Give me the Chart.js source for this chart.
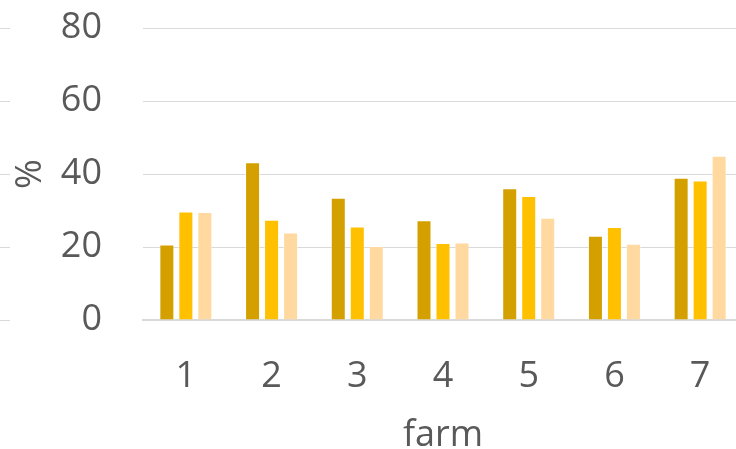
<!DOCTYPE html>
<html>
<head>
<meta charset="utf-8">
<title>farm chart</title>
<script src="https://cdn.jsdelivr.net/npm/chart.js@4/dist/chart.umd.min.js"></script>
<style>
    html, body { margin: 0; padding: 0; background: #ffffff; overflow: hidden; }
    #wrap { width: 744px; height: 457px; }
</style>
</head>
<body>
<div id="wrap"><canvas id="farmChart" width="744" height="457"></canvas></div>
<script>
// Chart data
const farms = ['1', '2', '3', '4', '5', '6', '7'];
const seriesA = [20.7, 43.2, 33.5, 27.3, 36.1, 23.1, 39.0];
const seriesB = [29.7, 27.5, 25.6, 21.1, 34.0, 25.5, 38.2];
const seriesC = [29.6, 24.0, 20.3, 21.2, 28.0, 20.9, 45.0];
const yTicks = [0, 20, 40, 60, 80];

const textColor = '#595959';
const gridColor = '#d9d9d9';
const font = { family: '"Open Sans", sans-serif', size: 36 };

// Small gridline stubs at the left edge
const leftStubs = {
    id: 'leftStubs',
    beforeDatasetsDraw(chart) {
        const ctx = chart.ctx;
        const y = chart.scales.y;
        ctx.save();
        ctx.strokeStyle = gridColor;
        ctx.lineWidth = 1;
        yTicks.forEach(v => {
            const py = Math.round(y.getPixelForValue(v)) + 0.5;
            ctx.beginPath();
            ctx.moveTo(0, py);
            ctx.lineTo(10, py);
            ctx.stroke();
        });
        ctx.restore();
    }
};

function makeDataset(data, color) {
    return {
        data: data,
        backgroundColor: color,
        borderColor: 'rgba(255,255,255,0.45)',
        borderWidth: 1,
        categoryPercentage: 0.665,
        barPercentage: 0.79
    };
}

new Chart(document.getElementById('farmChart'), {
    type: 'bar',
    data: {
        labels: farms,
        datasets: [
            makeDataset(seriesA, '#d4a000'),
            makeDataset(seriesB, '#ffc000'),
            makeDataset(seriesC, '#ffd9a0')
        ]
    },
    options: {
        responsive: false,
        animation: false,
        layout: { padding: { top: 28, right: 1, bottom: 0, left: 0 } },
        plugins: {
            legend: { display: false },
            tooltip: { enabled: false }
        },
        scales: {
            x: {
                grid: { display: false },
                border: { display: true, color: gridColor, width: 2 },
                ticks: { color: textColor, font: font, padding: 27 },
                title: { display: true, text: 'farm', color: textColor, font: font, padding: { top: 0, bottom: 0 } },
                afterFit: scale => {
                    scale.height = 137;
                    scale.paddingLeft = 0;
                    scale.paddingRight = 0;
                }
            },
            y: {
                min: 0,
                max: 80,
                afterBuildTicks: scale => { scale.ticks = yTicks.map(v => ({ value: v })); },
                grid: { color: gridColor, lineWidth: 1, drawTicks: false },
                border: { display: false },
                ticks: { color: textColor, font: font, padding: 41 },
                title: { display: true, text: '%', color: textColor, font: font, padding: { top: 9, bottom: 0 } },
                afterFit: scale => {
                    scale.width = 143;
                    scale.paddingTop = 0;
                    scale.paddingBottom = 0;
                }
            }
        }
    },
    plugins: [leftStubs]
});
</script>
</body>
</html>
